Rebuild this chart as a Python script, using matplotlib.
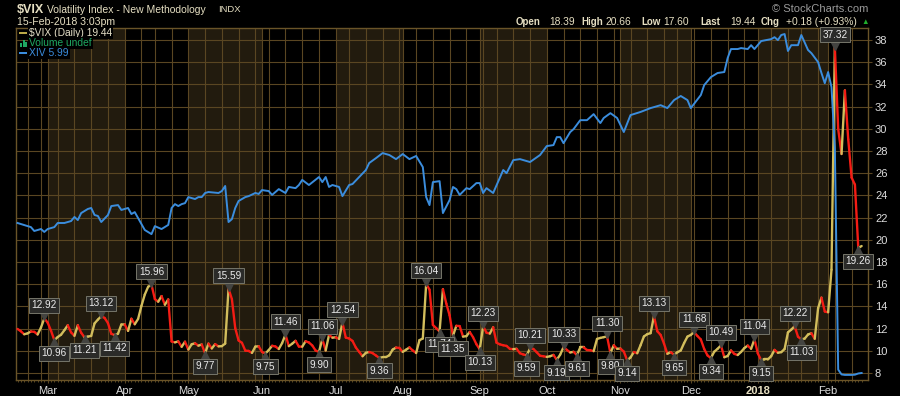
import numpy as np
import pandas as pd
import matplotlib
matplotlib.use('Agg')
import matplotlib.pyplot as plt
import matplotlib.transforms as mtransforms
from matplotlib.collections import LineCollection
from matplotlib.patches import Rectangle

plt.rcParams['font.family'] = ['Liberation Sans', 'DejaVu Sans']

# trading calendar (Feb 15 2017 - Feb 15 2018)
holidays = ['2017-02-20', '2017-04-14', '2017-05-29', '2017-07-04', '2017-09-04',
            '2017-11-23', '2017-12-25', '2018-01-01', '2018-01-15']
days = pd.bdate_range('2017-02-15', '2018-02-15')
days = days[~days.isin(pd.to_datetime(holidays))]

# $VIX daily closes
vix = [
    11.97, 11.76, 11.49, 11.57, 11.74, 11.71, 11.47, 12.09, 12.92,
    12.54, 11.81, 10.96, 11.24, 11.45, 11.86, 12.30, 11.66, 11.35, 12.30, 11.63, 11.21,
    11.28, 11.34, 12.47, 12.81, 13.12, 12.96, 12.50, 11.53, 11.42, 11.54, 12.37,
    12.38, 11.79, 12.89, 12.39, 12.87, 14.05, 15.07, 15.77, 15.96, 14.66, 14.42, 14.93,
    14.15, 14.63, 10.84, 10.76, 10.85, 10.36, 10.82,
    10.11, 10.59, 10.68, 10.46, 10.57, 9.77, 10.65, 10.21, 10.60, 10.40, 10.42, 10.65,
    15.59, 14.66, 12.04, 10.93, 10.72, 10.02, 9.99, 9.81, 10.38, 10.41,
    9.89, 9.75, 10.07, 10.45, 10.39, 10.16, 10.70, 11.46, 10.42, 10.64, 10.90, 10.38,
    10.37, 10.86, 10.75, 10.48, 10.02, 9.90, 11.06, 10.03, 11.44, 11.18,
    11.22, 11.07, 12.54, 11.19, 11.11, 10.89, 10.30, 9.90, 9.51, 9.82, 9.89, 9.79,
    9.58, 9.36, 9.43, 9.43, 9.60, 10.11, 10.29, 10.26,
    9.90, 10.10, 10.30, 10.03, 9.80, 10.96, 11.11, 16.04, 15.51, 12.33, 12.04, 11.74,
    15.55, 14.26, 13.19, 11.35, 12.25, 12.23, 11.28, 11.32, 11.70, 11.22, 10.59,
    10.13, 12.23, 11.63, 11.55, 12.12, 10.73, 10.58, 10.50, 10.44, 10.17, 10.15, 10.18,
    9.78, 9.67, 9.59, 10.21, 10.17, 9.87, 9.55, 9.51,
    9.45, 9.51, 9.63, 9.19, 9.65, 10.33, 10.08, 9.85, 9.91, 9.61, 10.31, 10.31, 10.07,
    10.05, 9.97, 11.07, 11.16, 11.23, 11.30, 9.80, 10.50, 10.18,
    10.20, 9.93, 9.14, 9.40, 9.89, 9.78, 10.50, 11.29, 11.50, 11.59, 13.13, 11.76,
    11.43, 10.65, 9.73, 9.88, 9.65, 9.87, 10.03, 10.70, 11.28,
    11.43, 11.68, 11.33, 11.02, 10.16, 9.58, 9.34, 9.92, 10.18, 10.49, 9.42, 9.53,
    10.03, 9.72, 9.62, 9.90, 10.25, 10.47, 10.18, 11.04,
    9.77, 9.15, 9.22, 9.22, 9.52, 10.08, 9.82, 9.88, 10.16, 11.66, 11.91, 12.22,
    11.27, 11.03, 11.10, 11.47, 11.58, 11.08, 13.84, 14.79, 13.54,
    13.47, 17.31, 37.32, 29.98, 27.73, 33.46, 29.06, 25.61, 24.97, 19.26, 19.44,
]

# XIV (trading day number, price)
xiv_day = [0, 4, 5, 7, 8, 9, 11, 12, 14, 16, 17, 18, 19, 21, 22, 23, 24, 25, 27, 28,
           30, 31, 33, 34, 35, 38, 40, 41, 43, 45, 46, 47, 48, 49, 50, 51, 53, 54, 55, 56,
           57, 60, 61, 62, 63, 64, 65, 66, 68, 69, 71, 72, 73, 75, 76, 78, 80, 81, 83, 84,
           85, 87, 90, 91, 92, 93, 94, 96, 97, 99, 100, 102, 104, 105, 107, 109, 111, 113,
           115, 117, 119, 121, 122, 123, 124, 126, 127, 129, 130, 131, 132, 134, 135, 137,
           138, 139, 140, 142, 145, 146, 148, 150, 153, 156, 158, 160, 161, 162, 163, 165,
           166, 168, 170, 172, 174, 175, 177, 179, 181, 183, 186, 189, 192, 194, 196, 198,
           200, 201, 204, 205, 207, 209, 211, 212, 213, 215, 216, 218, 219, 220, 222, 225,
           226, 227, 228, 229, 230, 231, 233, 234, 236, 237, 239, 240, 241, 242, 243, 244,
           245, 246, 247, 248, 249, 250, 251, 252]
xiv_val = [68.0, 66.3, 64.7, 65.5, 64.3, 65.5, 66.3, 68.0, 68.0, 68.8, 70.5, 69.2, 72.1,
           73.8, 74.2, 71.3, 70.9, 68.4, 71.3, 75.0, 75.4, 73.4, 74.2, 71.7, 72.5, 65.1,
           63.4, 66.7, 65.5, 67.2, 74.2, 75.8, 75.0, 75.8, 76.2, 78.7, 77.9, 78.7, 78.7,
           80.4, 80.8, 80.4, 81.2, 83.3, 68.4, 69.6, 74.2, 77.1, 78.7, 79.1, 80.4, 80.0,
           81.6, 81.2, 79.6, 82.0, 80.4, 82.9, 82.4, 83.7, 85.8, 83.7, 87.0, 84.9, 87.0,
           82.9, 83.7, 82.9, 79.1, 83.7, 84.1, 87.0, 89.9, 92.8, 94.8, 96.9, 96.1, 94.4,
           96.5, 94.4, 95.7, 91.1, 78.7, 75.4, 84.9, 85.3, 72.1, 77.5, 82.9, 82.0, 79.6,
           82.4, 82.0, 84.5, 84.5, 80.4, 82.4, 80.4, 89.9, 88.6, 94.0, 94.4, 93.2, 96.1,
           99.8, 100.2, 103.5, 103.5, 101.0, 105.6, 106.8, 110.5, 110.5, 113.0, 109.3,
           111.4, 113.4, 111.4, 105.6, 112.6, 113.9, 115.5, 116.7, 115.5, 118.8, 120.5,
           118.8, 115.5, 120.9, 125.0, 128.3, 130.0, 130.4, 136.2, 139.9, 139.9, 140.3,
           139.9, 141.5, 139.9, 143.2, 144.0, 144.8, 143.6, 145.7, 146.1, 139.1, 141.5,
           141.5, 145.7, 139.5, 138.2, 134.5, 130.0, 125.8, 130.4, 124.2, 99.0, 7.4, 5.4,
           5.2, 5.2, 5.2, 5.3, 5.8, 5.99]

high_days = [8, 25, 40, 63, 80, 91, 97, 122, 139, 153, 163, 176, 190, 202, 210, 220, 232, 244]
low_days = [11, 20, 29, 56, 74, 90, 108, 126, 130, 138, 152, 161, 167, 177, 182, 196, 207,
            222, 234, 251]

vix_ticks = list(range(8, 40, 2))

BG = '#000000'
BAND = '#221b0e'
GRID = '#5a4622'
GOLD = '#d2bd5c'
RED = '#f41c14'
BLUE = '#3b8ddd'
TXT = '#e6dfc2'

W, H = 900, 396
fig = plt.figure(figsize=(W / 100, H / 100), dpi=100, facecolor=BG)
ax = fig.add_axes([16 / W, 16 / H, 852 / W, 352 / H])
ax.set_facecolor(BG)

n = len(vix)
x = np.arange(n)
ax.set_xlim(-0.45, 253.9)
ax.set_ylim(7.37, 39.08)

# XIV on its own hidden scale
tx = ax.twinx()
tx.set_ylim(3.1, 148.6)
tx.set_yticks([])
for s in tx.spines.values():
    s.set_visible(False)
tx.plot(xiv_day, xiv_val, color=BLUE, lw=1.4, zorder=3, solid_joinstyle='round')

# month bands and grid
per_m = days[:n].to_period('M')
month_starts = [i for i in range(1, n) if per_m[i] != per_m[i - 1]]
per_w = days[:n].to_period('W')
week_starts = [i for i in range(1, n) if per_w[i] != per_w[i - 1]]

edges = month_starts + [ax.get_xlim()[1]]
for a, b in zip(month_starts, edges[1:]):
    if days[a].month % 2 == 1:
        ax.axvspan(a, b, color=BAND, lw=0, zorder=0)

for i in sorted(set(month_starts + week_starts)):
    ax.axvline(i, color=GRID, lw=0.8, zorder=1)
for v in vix_ticks:
    ax.axhline(v, color=GRID, lw=0.8, zorder=1)

for s in ax.spines.values():
    s.set_color('#6a5428')
    s.set_linewidth(1.0)

# axis ticks (right side)
ax.yaxis.set_label_position('right')
ax.yaxis.tick_right()
ax.set_yticks(vix_ticks)
ax.tick_params(axis='y', which='both', left=False, labelleft=False, right=True, labelright=True,
               colors='#dcdcdc', labelsize=8, length=3, width=0.8, pad=2)
ax.tick_params(axis='y', color=GRID)

labels = []
for i in month_starts:
    labels.append(str(days[i].year) if days[i].month == 1 else days[i].strftime('%b'))
ax.set_xticks(month_starts)
ax.set_xticklabels(labels)
ax.tick_params(axis='x', colors='#dcdcdc', labelsize=8, length=2, width=0.8, pad=2)
ax.tick_params(axis='x', color=GRID)
for t in ax.get_xticklabels():
    if t.get_text() == '2018':
        t.set_fontweight('bold')
        t.set_color(TXT)
ax.set_xticks(x, minor=True)
ax.tick_params(axis='x', which='minor', length=1.5, width=0.6, color='#6a5428')

# VIX line: gold when rising, red when falling
pts = np.column_stack([x, vix])
segs = np.stack([pts[:-1], pts[1:]], axis=1)
cols = [GOLD if vix[i + 1] >= vix[i] else RED for i in range(n - 1)]
lc = LineCollection(segs, colors=cols, linewidths=1.7, zorder=4, capstyle='round')
ax.add_collection(lc)


def tag(i, above):
    v = vix[i]
    d = 1 if above else -1
    off = mtransforms.offset_copy(ax.transData, fig=fig, x=0, y=d * 4, units='dots')
    ax.plot(i, v, marker='v' if above else '^', ms=8, color='#444441', mec='#444441',
            transform=off, zorder=5, clip_on=False)
    ax.annotate(f'{v:.2f}', (i, v), xytext=(0, d * 8), textcoords='offset pixels',
                ha='center', va='bottom' if above else 'top', fontsize=7.2, color='#ececec',
                bbox=dict(boxstyle='square,pad=0.25', fc='#2b2b29', ec='#75756a', lw=0.7),
                zorder=6, annotation_clip=False)


for i in high_days:
    tag(i, True)
for i in low_days:
    tag(i, False)

# header texts
def px(xp, yp):
    return xp / W, 1 - yp / H

fig.text(*px(17, 10), '$VIX', fontsize=9, fontweight='bold', color=TXT, va='center')
fig.text(*px(47, 10), 'Volatility Index - New Methodology', fontsize=7.5, color=TXT, va='center')
fig.text(*px(218, 10), 'INDX', fontsize=6.8, color=TXT, va='center')
fig.text(*px(17, 22), '15-Feb-2018 3:03pm', fontsize=7.6, color=TXT, va='center')
fig.text(*px(868, 9), '\u00a9 StockCharts.com', fontsize=8, color='#9a9a9a', va='center', ha='right')

hdr = [(516, 'Open', True), (549, '18.39', False), (581, 'High', True), (605, '20.66', False),
       (641, 'Low', True), (663, '17.60', False), (700, 'Last', True), (730, '19.44', False),
       (761, 'Chg', True), (786, '+0.18 (+0.93%)', False)]
for xp, s, b in hdr:
    fig.text(*px(xp, 22), s, fontsize=7.0 if b else 7.4, fontweight='bold' if b else 'normal',
             color=TXT, va='center')
fig.text(*px(865, 22), '\u25b2', fontsize=5.5, color='#1fae2c', va='center', ha='center')

# legend
leg = [('$VIX (Daily) 19.44', '#bcaa48', '#e6e0c8', 33),
       ('Volume undef', '#1fa862', '#1fa862', 43),
       ('XIV 5.99', BLUE, BLUE, 53)]
for s, sw, tc, yp in leg:
    fig.text(*px(29, yp), s, fontsize=7.4, color=tc, va='center',
             bbox=dict(boxstyle='square,pad=0.1', fc=BG, ec='none'))
    if s.startswith('Volume'):
        for k, hh in enumerate([4, 7, 5]):
            fig.add_artist(Rectangle(((20 + k * 2.7) / W, 1 - (yp + 4) / H), 2 / W, hh / H,
                                     transform=fig.transFigure, color=sw, lw=0))
    else:
        fig.add_artist(Rectangle((19 / W, 1 - (yp + 1) / H), 8 / W, 2.5 / H,
                                 transform=fig.transFigure, color=sw, lw=0))

fig.savefig('out.png', dpi=100, facecolor=BG)
